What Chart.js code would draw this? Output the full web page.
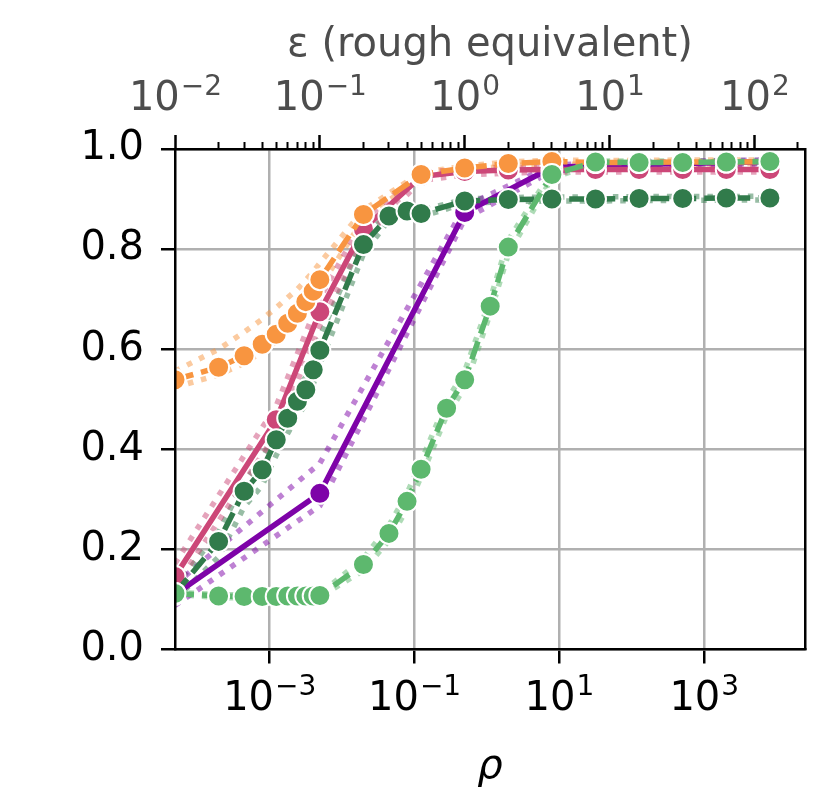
<!DOCTYPE html>
<html>
<head>
<meta charset="utf-8">
<script src="https://cdn.jsdelivr.net/npm/chart.js@4.4.1/dist/chart.umd.min.js"></script>
<style>
  html, body { margin: 0; padding: 0; background: #fff; overflow: hidden; }
  canvas { display: block; }
</style>
</head>
<body>
<canvas id="chart" width="832" height="805"></canvas>
<script>
// ---------- data (rho values shared by every curve) ----------
const rhoValues = [0.00005, 0.0002, 0.00045, 0.0008, 0.00125, 0.0018, 0.00245, 0.0032, 0.00405, 0.005,
  0.02, 0.045, 0.08, 0.125, 0.28125, 0.5, 1.125, 2, 8, 32, 128, 512, 2048, 8192];

const orangeMean = [0.539, 0.564, 0.587, 0.610, 0.630, 0.652, 0.672, 0.695, 0.716, 0.739,
  0.869, null, null, 0.949, null, 0.962, null, 0.971, 0.975, 0.973, 0.973, 0.974, 0.974, 0.975];
const orangeHigh = [0.556, 0.600, 0.634, 0.660, 0.683, 0.703, 0.720, 0.738, 0.755, 0.772,
  0.878, null, null, 0.953, null, 0.966, null, 0.974, 0.978, 0.977, 0.977, 0.978, 0.978, 0.978];
const orangeLow = [0.524, 0.549, 0.572, 0.595, 0.615, 0.637, 0.657, 0.680, 0.701, 0.724,
  0.860, null, null, 0.944, null, 0.957, null, 0.967, 0.970, 0.969, 0.970, 0.970, 0.971, 0.971];

const pinkMean = [0.146, null, null, null, 0.459, null, null, null, null, 0.675,
  0.840, null, null, 0.945, null, 0.955, null, 0.958, 0.959, 0.959, 0.959, 0.959, 0.959, 0.959];
const pinkHigh = [0.172, null, null, null, 0.487, null, null, null, null, 0.702,
  0.858, null, null, 0.952, null, 0.961, null, 0.963, 0.964, 0.964, 0.964, 0.964, 0.964, 0.964];
const pinkLow = [0.124, null, null, null, 0.432, null, null, null, null, 0.648,
  0.820, null, null, 0.937, null, 0.948, null, 0.952, 0.954, 0.954, 0.954, 0.954, 0.954, 0.954];

const purpleMean = [0.110, null, null, null, null, null, null, null, null, 0.312,
  null, null, null, null, null, 0.873, null, null, 0.963, 0.967, 0.969, 0.971, 0.973, 0.975];
const purpleHigh = [0.130, null, null, null, null, null, null, null, null, 0.372,
  null, null, null, null, null, 0.885, null, null, 0.968, 0.971, 0.973, 0.975, 0.977, 0.978];
const purpleLow = [0.088, null, null, null, null, null, null, null, null, 0.287,
  null, null, null, null, null, 0.860, null, null, 0.956, 0.962, 0.965, 0.967, 0.969, 0.971];

const darkGreenMean = [0.112, 0.216, 0.316, 0.359, 0.419, 0.462, 0.496, 0.519, 0.559, 0.598,
  0.809, 0.866, 0.876, 0.871, null, 0.896, null, 0.899, 0.900, 0.900, 0.901, 0.901, 0.902, 0.902];
const darkGreenHigh = [0.125, 0.235, 0.335, 0.380, 0.440, 0.485, 0.520, 0.545, 0.585, 0.625,
  0.825, 0.872, 0.882, 0.877, null, 0.900, null, 0.903, 0.904, 0.904, 0.905, 0.905, 0.905, 0.906];
const darkGreenLow = [0.100, 0.185, 0.285, 0.328, 0.388, 0.432, 0.466, 0.490, 0.530, 0.570,
  0.790, 0.858, 0.869, 0.865, null, 0.891, null, 0.895, 0.896, 0.896, 0.897, 0.897, 0.898, 0.898];

const lightGreenMean = [0.112, 0.107, 0.106, 0.106, 0.106, 0.107, 0.107, 0.107, 0.107, 0.108,
  0.170, 0.232, 0.296, 0.360, 0.482, 0.539, 0.686, 0.804, 0.949, 0.974, 0.973, 0.973, 0.974, 0.975];
const lightGreenHigh = [0.114, 0.110, 0.109, 0.109, 0.109, 0.110, 0.110, 0.110, 0.110, 0.111,
  0.182, 0.248, 0.312, 0.376, 0.497, 0.556, 0.700, 0.818, 0.955, 0.976, 0.976, 0.976, 0.977, 0.977];
const lightGreenLow = [0.110, 0.104, 0.103, 0.103, 0.103, 0.104, 0.104, 0.104, 0.104, 0.105,
  0.158, 0.218, 0.281, 0.345, 0.467, 0.523, 0.671, 0.790, 0.942, 0.971, 0.971, 0.971, 0.972, 0.972];

// ---------- ticks ----------
const yTicks = [0, 0.2, 0.4, 0.6, 0.8, 1.0];
const rhoTicks = [1e-3, 1e-1, 1e1, 1e3];
const rhoTickExponents = ["−3", "−1", "1", "3"];
const epsTicks = [0.01, 0.1, 1, 10, 100];
const epsTickExponents = ["−2", "−1", "0", "1", "2"];

const rhoMin = 5e-5, rhoMax = 2.5e4;
const epsMin = 0.01, epsMax = 223.6;

// ---------- styling ----------
const FONT = "DejaVu Sans";
const ORANGE = "#f89540", PINK = "#cc4778", PURPLE = "#7e03a8";
const DARKGREEN = "#317b4b", LIGHTGREEN = "#5db86e";
const GREY_TEXT = "#4d4d4d";

function points(values) {
  return rhoValues.map((x, i) => ({ x: x, y: values[i] }));
}

function fade(hex) {
  const n = parseInt(hex.slice(1), 16);
  return "rgba(" + (n >> 16) + "," + ((n >> 8) & 255) + "," + (n & 255) + ",0.5)";
}

function mainLine(values, color, dash, order) {
  return {
    data: points(values), xAxisID: "x", yAxisID: "y",
    borderColor: color, borderWidth: 5.5, borderDash: dash, borderCapStyle: "butt",
    pointRadius: 10.5, pointBackgroundColor: color, pointBorderColor: "#fff", pointBorderWidth: 2,
    tension: 0, spanGaps: true, order: order,
  };
}

function boundLine(values, color) {
  return {
    data: points(values), xAxisID: "x", yAxisID: "y",
    borderColor: fade(color), borderWidth: 5.5, borderDash: [5.5, 8], borderCapStyle: "butt",
    pointRadius: 0, tension: 0, spanGaps: true, order: 10,
  };
}

const datasets = [
  boundLine(purpleHigh, PURPLE), boundLine(purpleLow, PURPLE),
  boundLine(pinkHigh, PINK), boundLine(pinkLow, PINK),
  boundLine(orangeHigh, ORANGE), boundLine(orangeLow, ORANGE),
  boundLine(darkGreenHigh, DARKGREEN), boundLine(darkGreenLow, DARKGREEN),
  boundLine(lightGreenHigh, LIGHTGREEN), boundLine(lightGreenLow, LIGHTGREEN),
  mainLine(purpleMean, PURPLE, [], 5),
  mainLine(pinkMean, PINK, [], 4),
  mainLine(orangeMean, ORANGE, [19, 8], 3),
  mainLine(darkGreenMean, DARKGREEN, [19, 8], 2),
  mainLine(lightGreenMean, LIGHTGREEN, [19, 8], 1),
];

// ---------- "10^n" tick labels drawn at the scale's tick pixels ----------
function drawPowers(ctx, scale, values, exps, baseline, color) {
  const baseFont = "40px '" + FONT + "'";
  const expFont = "28px '" + FONT + "'";
  ctx.save();
  ctx.fillStyle = color;
  ctx.textAlign = "left";
  ctx.textBaseline = "alphabetic";
  values.forEach((v, i) => {
    const px = scale.getPixelForValue(v);
    ctx.font = baseFont;
    const wb = ctx.measureText("10").width;
    ctx.font = expFont;
    const we = ctx.measureText(exps[i]).width;
    const x0 = px - (wb + we) / 2;
    ctx.font = baseFont;
    ctx.fillText("10", x0, baseline);
    ctx.font = expFont;
    ctx.fillText(exps[i], x0 + wb + 1, baseline - 15);
  });
  ctx.restore();
}

const powerLabels = {
  id: "powerLabels",
  afterDraw(chart) {
    drawPowers(chart.ctx, chart.scales.x, rhoTicks, rhoTickExponents, 710, "#000");
    drawPowers(chart.ctx, chart.scales.x2, epsTicks, epsTickExponents, 110, GREY_TEXT);
  },
};

const tickFont = { family: FONT, size: 40 };
const isMinor = (c) => c.tick && c.tick.minor;

new Chart(document.getElementById("chart"), {
  type: "line",
  data: { datasets: datasets },
  plugins: [powerLabels],
  options: {
    responsive: false,
    animation: false,
    events: [],
    layout: { padding: 0 },
    plugins: { legend: { display: false }, tooltip: { enabled: false } },
    scales: {
      x: {
        type: "logarithmic", position: "bottom", min: rhoMin, max: rhoMax,
        afterBuildTicks: (s) => { s.ticks = rhoTicks.map((v) => ({ value: v })); },
        afterFit: (s) => { s.height = 155.5; },
        ticks: { autoSkip: false, maxRotation: 0, font: tickFont, callback: () => "" },
        grid: { color: "#b0b0b0", lineWidth: 2.5, tickColor: "#000", tickWidth: 2.5, tickLength: 14 },
        border: { color: "#000", width: 2.5, z: 1 },
        title: {
          display: true, text: "ρ", color: "#000",
          font: { family: FONT, size: 40, style: "italic" }, padding: { top: 0, bottom: 13 },
        },
      },
      x2: {
        type: "logarithmic", position: "top", min: epsMin, max: epsMax,
        afterBuildTicks: (s) => {
          const t = [];
          epsTicks.forEach((d) => {
            t.push({ value: d });
            for (let k = 2; k <= 9; k++) {
              if (k * d <= epsMax) t.push({ value: k * d, minor: true });
            }
          });
          t.sort((a, b) => a.value - b.value);
          s.ticks = t;
        },
        afterFit: (s) => { s.height = 149; },
        ticks: { autoSkip: false, maxRotation: 0, font: tickFont, callback: () => "" },
        grid: {
          drawOnChartArea: false, tickLength: 14, tickColor: "#000",
          tickWidth: (c) => (isMinor(c) ? 2 : 2.5),
          tickBorderDash: (c) => (isMinor(c) ? [7, 7] : []),
          tickBorderDashOffset: (c) => (isMinor(c) ? 7 : 0),
        },
        border: { color: "#000", width: 2.5, z: 1 },
        title: {
          display: true, text: "ε (rough equivalent)", color: GREY_TEXT,
          font: { family: FONT, size: 40 }, padding: { top: 22, bottom: 0 },
        },
      },
      y: {
        type: "linear", position: "left", min: 0, max: 1,
        afterBuildTicks: (s) => { s.ticks = yTicks.map((v) => ({ value: v })); },
        afterFit: (s) => { s.width = 175; },
        ticks: { font: tickFont, color: "#000", padding: 17, callback: (v) => v.toFixed(1) },
        grid: { color: "#b0b0b0", lineWidth: 2.5, tickColor: "#000", tickWidth: 2.5, tickLength: 14 },
        border: { color: "#000", width: 2.5, z: 1 },
      },
      yr: {
        type: "linear", position: "right", min: 0, max: 1,
        afterFit: (s) => { s.width = 27; },
        ticks: { display: false },
        grid: { display: false },
        border: { color: "#000", width: 2.5, z: 1 },
      },
    },
  },
});
</script>
</body>
</html>
